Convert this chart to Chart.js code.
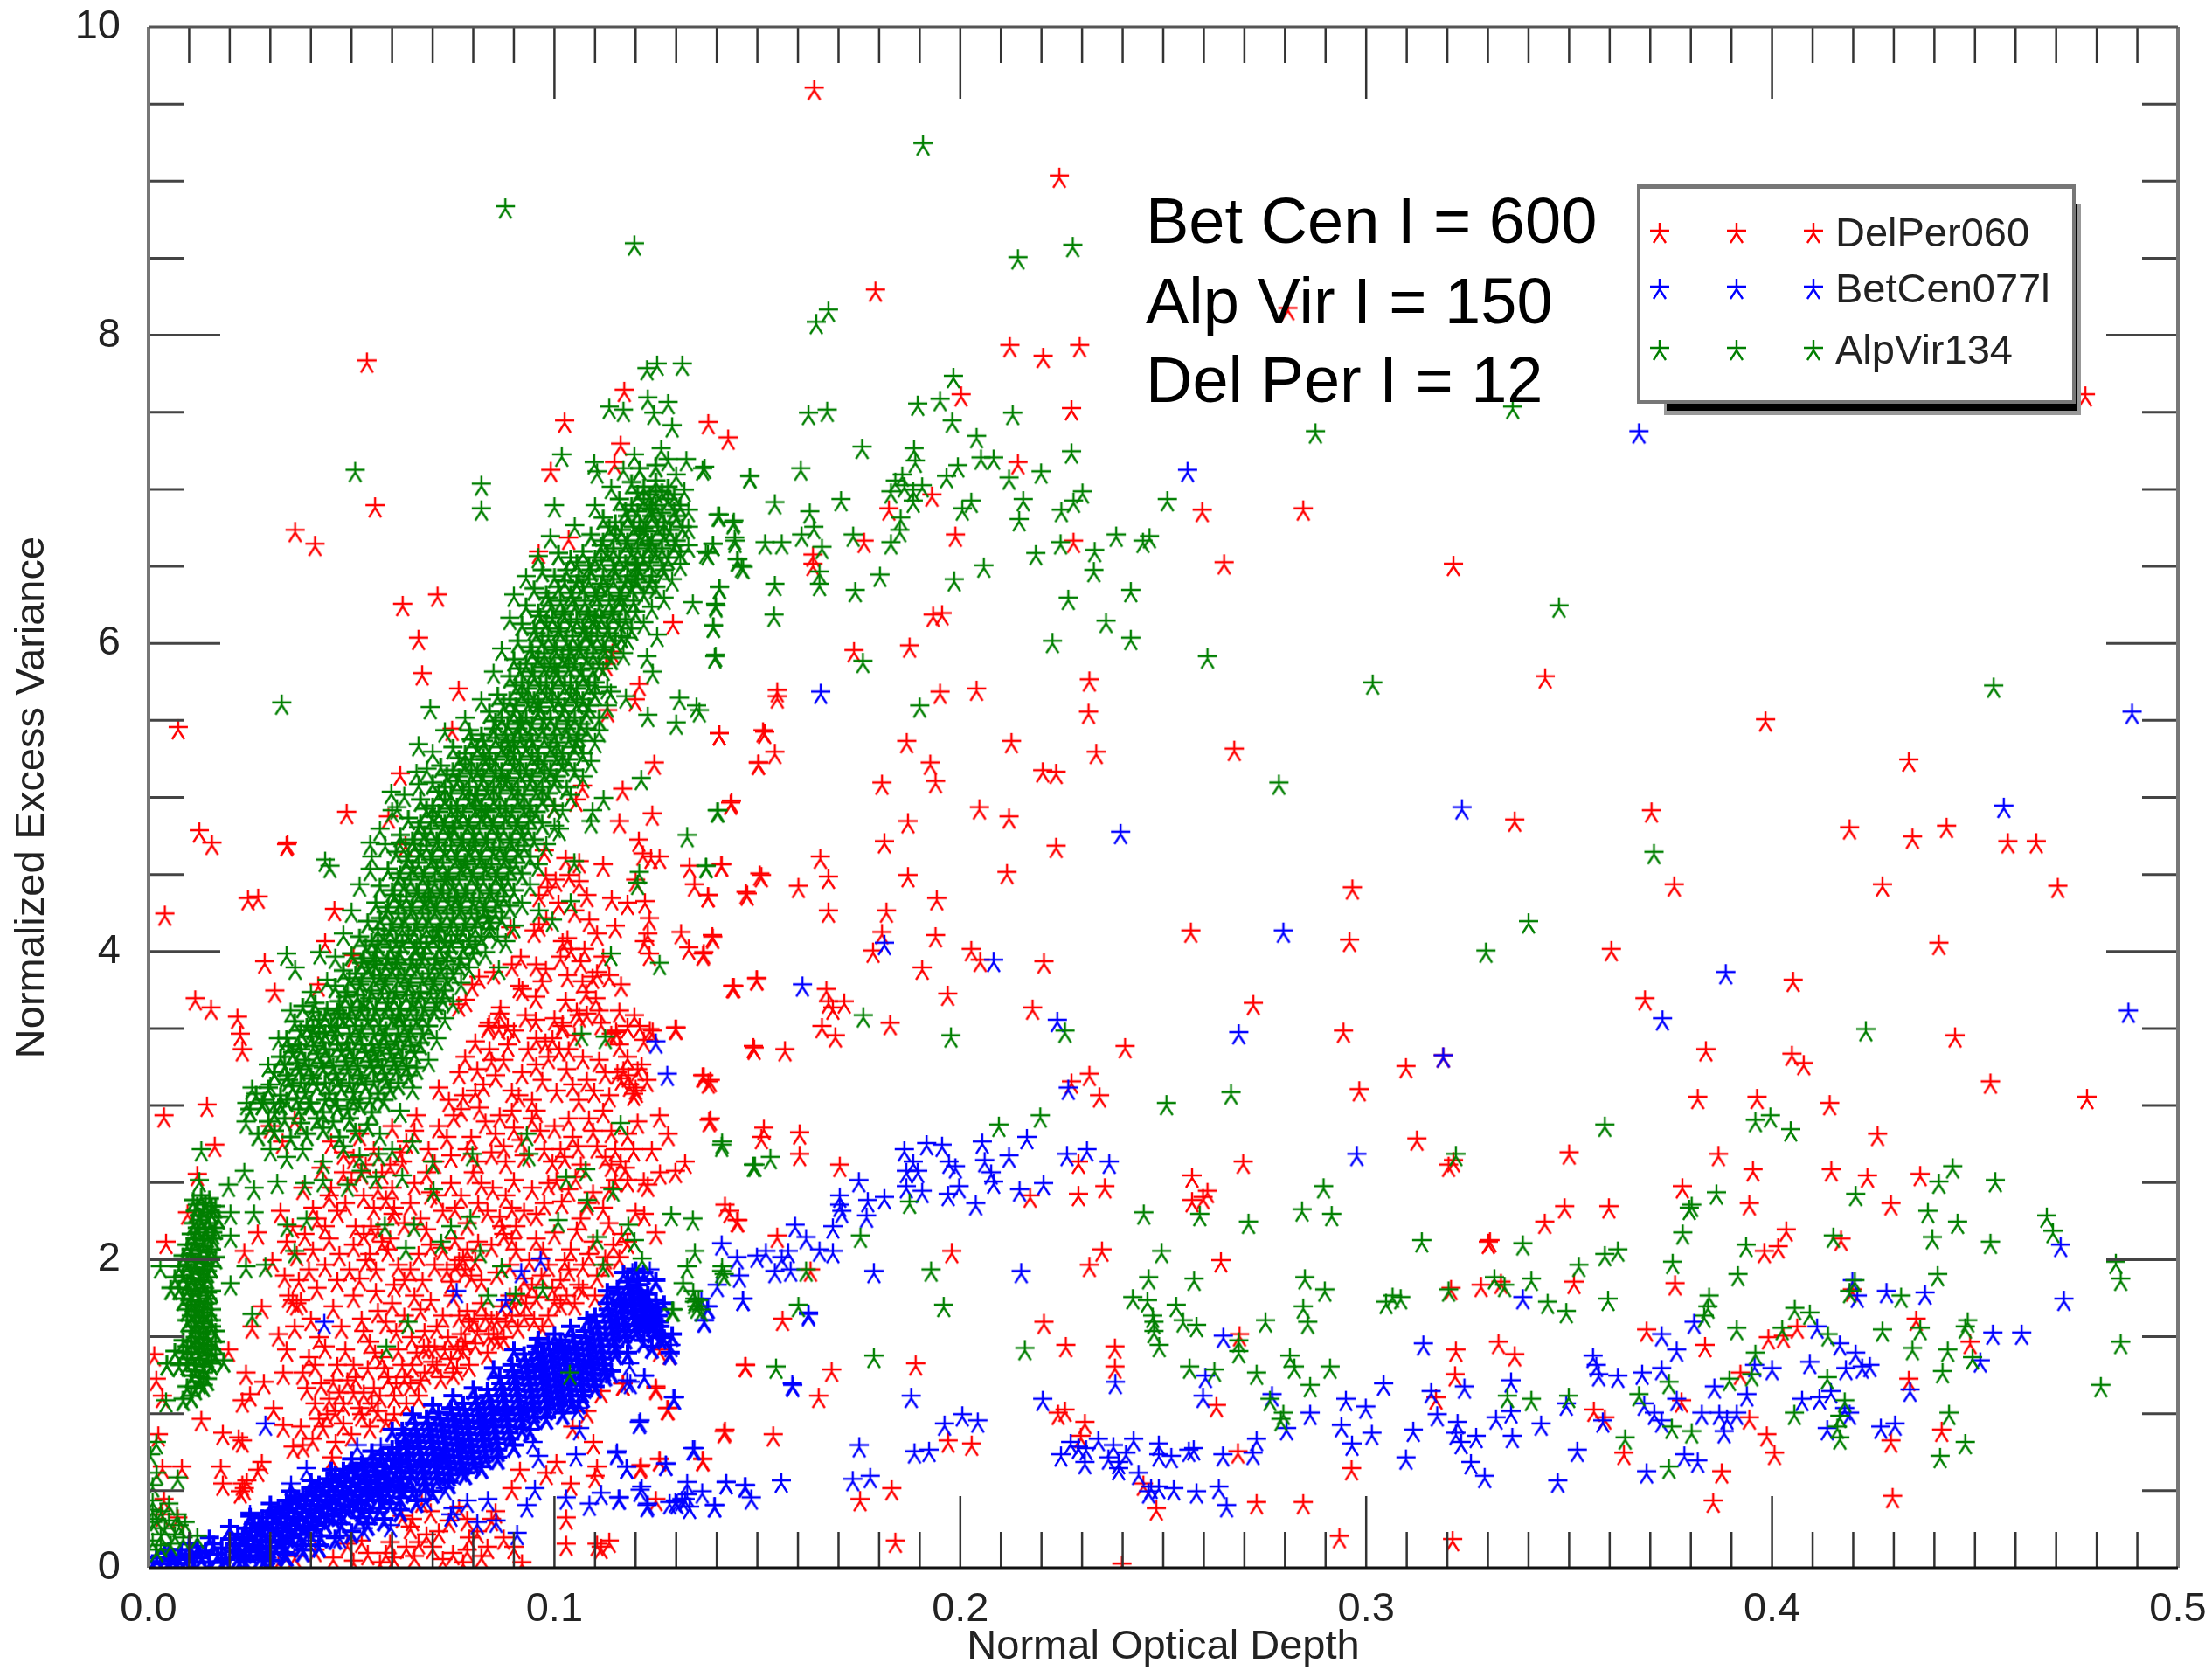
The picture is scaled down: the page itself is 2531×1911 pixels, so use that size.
<!DOCTYPE html>
<html>
<head>
<meta charset="utf-8">
<title>Normalized Excess Variance</title>
<style>
  html, body { margin: 0; padding: 0; background: #fff; }
  canvas { display: block; }
</style>
</head>
<body>
<canvas id="chart" width="2531" height="1911"></canvas>
<script src="https://cdn.jsdelivr.net/npm/chart.js@4/dist/chart.umd.min.js"></script>
<script>
const xTickLabels = ['0.0', '0.1', '0.2', '0.3', '0.4', '0.5'];
const yTickLabels = ['0', '2', '4', '6', '8', '10'];
const seriesNames = ['DelPer060', 'BetCen077l', 'AlpVir134'];
const noteLines = ['Bet Cen I = 600', 'Alp Vir I = 150', 'Del Per I = 12'];

// [optical depth, excess variance]
const delPerSparse = [
[.164,9.59],[.2244,9.02],[.1791,8.28],[.2122,7.92],[.2204,7.85],[.2294,7.92],[.2807,8.16],[.2002,7.6],[.2274,7.51],[.1379,7.42],[.1428,7.32],[.2142,7.16],
[.2596,6.85],[.2845,6.86],[.265,6.51],[.193,6.95],[.1824,6.86],[.1988,6.69],[.2279,6.65],[.1763,6.65],[.1637,6.56],[.1637,6.5],[.1933,6.17],[.1955,6.18],
[.1738,5.94],[.1875,5.97],[.2318,5.75],[.2316,5.54],[.1549,5.68],[.1549,5.64],[.195,5.67],[.204,5.69],[.1406,5.4],[.1518,5.41],[.1543,5.28],[.1503,5.21],
[.1868,5.35],[.2126,5.35],[.1926,5.21],[.1939,5.09],[.1807,5.08],[.2203,5.16],[.2236,5.15],[.2335,5.28],[.2675,5.3],[.1434,4.95],[.2047,4.92],[.212,4.86],
[.1871,4.83],[.1813,4.7],[.2236,4.67],[.1655,4.6],[.1675,4.47],[.1412,4.55],[.151,4.48],[.1601,4.41],[.1472,4.37],[.1871,4.48],[.2115,4.5],[.1379,4.35],
[.2966,4.4],[.1942,4.33],[.1675,4.25],[.1818,4.25],[.2568,4.12],[.2959,4.06],[.139,4.08],[.1368,3.98],[.1807,4.11],[.1785,3.99],[.1939,4.09],[.2027,4.0],
[.2049,3.93],[.2206,3.92],[.1906,3.88],[.1969,3.71],[.1439,3.76],[.1499,3.81],[.167,3.74],[.1675,3.66],[.1686,3.62],[.1714,3.66],[.1659,3.5],[.1692,3.44],
[.1827,3.52],[.2178,3.62],[.2722,3.65],[.2944,3.47],[.2406,3.37],[.1492,3.36],[.1568,3.35],[.1368,3.18],[.1379,3.14],[.2274,3.14],[.2318,3.19],[.2343,3.05],
[.2983,3.09],[.1381,2.89],[.1516,2.84],[.151,2.78],[.1604,2.81],[.1604,2.67],[.1703,2.6],[.2291,2.62],[.2697,2.62],[.2571,2.53],[.2609,2.43],[.2571,2.37],
[.2598,2.39],[.2291,2.41],[.2356,2.46],[.2172,2.4],[.142,2.34],[.145,2.24],[.1549,2.14],[.1979,2.04],[.2349,2.05],[.2318,1.95],[.2642,1.98],[.1631,1.92],
[.2206,1.58],[.1562,1.6],[.226,1.43],[.2381,1.42],[.2381,1.29],[.147,1.3],[.1683,1.27],[.189,1.31],[.1651,1.1],[.2688,1.5],[.2631,1.04],[.2241,.99],
[.2258,1.01],[.2307,.93],[.142,.88],[.1539,.85],[.197,.81],[.2028,.79],[.1366,.69],[.1213,.65],[.1259,.69],[.1831,.5],[.1753,.43],[.125,.43],[.184,.16],
[.2297,.84],[.2684,.74],[.2964,.63],[.2483,.37],[.273,.41],[.2845,.41],[.2934,.19],[.2398,.01],[.2451,.53],[.1259,1.4],[.1283,1.38],[.125,1.16],[.1169,1.18],[.128,1.02],
[.3215,6.5],[.4772,7.6],[.3441,5.77],[.3984,5.49],[.4337,5.23],[.3366,4.84],[.3703,4.9],[.4191,4.79],[.4346,4.73],[.443,4.8],[.4581,4.7],[.4651,4.7],
[.4704,4.41],[.4272,4.42],[.3759,4.42],[.4411,4.04],[.3604,4.0],[.4052,3.8],[.3687,3.68],[.3837,3.35],[.4451,3.44],[.4049,3.32],[.4078,3.26],[.4538,3.14],
[.319,3.31],[.3098,3.24],[.4776,3.04],[.3817,3.04],[.3963,3.04],[.4142,3.0],[.426,2.8],[.3125,2.77],[.3203,2.6],[.3215,2.63],[.35,2.68],[.3868,2.67],[.3953,2.57],
[.4146,2.57],[.4235,2.53],[.4365,2.54],[.3779,2.46],[.4293,2.35],[.3944,2.35],[.3489,2.33],[.3598,2.33],[.344,2.23],[.3301,2.1],[.3305,2.11],[.4035,2.18],
[.417,2.12],[.3981,2.04],[.4015,2.07],[.3761,1.83],[.3512,1.84],[.3209,1.8],[.3283,1.82],[.3332,1.84],[.4198,1.79],[.4355,1.6],[.3691,1.53],[.3835,1.43],
[.3991,1.48],[.4028,1.49],[.4062,1.55],[.4488,1.45],[.3326,1.45],[.3221,1.4],[.3366,1.37],[.3219,1.24],[.4337,1.21],[.3922,1.25],[.3172,1.09],[.3777,1.07],
[.3561,1.01],[.3588,.96],[.3944,.96],[.4418,.88],[.3987,.85],[.4293,.81],[.4006,.73],[.3635,.73],[.3876,.61],[.3855,.42],[.4297,.45],[.3213,.17]
];
const delPerCloud = [
[.0538,7.82],[.1172,7.63],[.1025,7.43],[.0991,7.11],[.1148,7.16],[.1163,7.28],[.0558,6.88],[.0361,6.72],[.041,6.63],[.1035,6.67],[.0961,6.58],[.1292,6.12],
[.0712,6.3],[.0626,6.24],[.0665,6.02],[.0674,5.79],[.0764,5.69],[.0748,5.43],[.062,5.14],[.0488,4.89],[.0591,4.86],[.0342,4.69],[.027,4.34],[.0245,4.33],
[.0458,4.26],[.0633,4.68],[.0286,3.92],[.0435,4.05],[.0505,3.96],[.0311,3.73],[.0418,3.77],[.1209,5.72],[.1199,5.62],[.1131,5.55],[.1127,5.85],[.1143,5.93],
[.1246,5.21],[.1168,5.04],[.1069,5.06],[.0999,4.93],[.1053,4.97],[.116,4.83],[.1241,4.88],[.1436,4.96],[.1406,5.4],[.1514,5.42],[.1502,5.21],[.1475,4.36],
[.1506,4.49],[.1411,4.55],[.1333,4.54],[.1345,4.42],[.1378,4.35],[.1208,4.71],[.1218,4.62],[.1238,4.6],[.1259,4.6],[.1141,4.33],[.1223,4.31],[.1234,4.2],
[.1312,4.11],[.1389,4.09],[.1331,4.01],[.1366,3.97],[.123,4.1],[.1222,4.05],[.1234,3.97],[.144,3.76],[.1498,3.81],[.1164,3.77],[.0975,4.64],[.1028,4.59],
[.1061,4.57],[.0979,4.48],[.1003,4.45],[.1036,4.48],[.1061,4.44],[.0962,4.35],[.0983,4.4],[.0892,4.14],[.095,4.12],[.0962,4.16],[.1032,4.07],[.102,4.05],
[.104,4.0],[.1074,4.0],[.1086,4.19],[.0917,3.95],[.0814,3.82],[.0797,3.77],[.0867,3.62],[.0913,3.76],[.0979,3.87],[.097,3.79],[.1032,3.83],[.1069,3.79],
[.1094,3.82],[.1078,3.72],[.1102,3.68],[.0954,3.69],[.0921,3.74],[.1028,3.67],[.1135,3.83],[.0781,3.67],[.0764,3.64],[.0839,3.52],[.0863,3.49],[.0929,3.57],
[.0954,3.54],[.102,3.52],[.1061,3.57],[.1152,3.47],[.1197,3.57],[.1242,3.47],[.13,3.49],
[.0115,3.68],[.0154,3.62],[.0219,3.56],[.0226,3.45],[.0231,3.35],[.0038,2.92],[.0144,2.99],[.0163,2.73],[.012,2.54],[.0043,2.1],[.0096,2.29],[.0269,2.16],
[.0236,2.04],[.0279,1.68],[.0014,1.37],[.0019,1.21],[.0034,1.1],[.0024,.85],[.0197,1.4],[.024,1.25],[.0284,1.19],[.0332,1.25],[.0255,1.55],[.0231,1.07],
[.025,1.11],[.013,.95],[.0183,.86],[.0231,.81],[.0222,.83],[.0178,.64],[.0183,.53],[.0231,.53],[.0236,.5],[.0242,.55],[.0226,.48],[.0269,.62],[.0279,.67],[.0038,.43],[.0082,.64],[.0034,.64],
[.0072,.31],[.0034,.33],[.0073,5.44],[.0125,4.77],[.0156,4.69],[.004,4.23],[.034,4.68],
[.0308,1.02],[.0332,.91],[.0375,.9],[.038,.78],[.0356,.77],[.0404,.82],[.0452,.7],[.0461,.8],[.042,.95],[.048,.92],[.05,.85],[.0525,.98],[.0545,.9],[.0565,1.0],[.0585,.94],[.0605,.98],
[.041,1.3],[.0425,1.18],[.0445,1.08],[.0465,1.3],[.049,1.2],[.0505,1.12],[.052,1.02],[.054,1.28],[.0555,1.15],[.0575,1.35],[.059,1.22],[.0605,1.1],[.0625,1.3],[.0645,1.18],[.066,1.38],[.068,1.25],[.07,1.32],[.072,1.22],[.0745,1.34],[.076,1.28],[.079,1.3],[.0505,1.3],[.0455,1.2],[.0635,1.05],[.0665,1.1],
[.0375,1.72],[.04,1.6],[.042,1.48],[.0455,1.68],[.0475,1.55],[.0505,1.75],[.0525,1.6],[.0545,1.45],[.056,1.78],[.0585,1.58],[.06,1.7],[.0615,1.4],[.063,1.62],[.0655,1.75],[.067,1.66],[.068,1.52],[.0695,1.72],[.0705,1.42],[.0725,1.62],[.075,1.75],[.077,1.5],[.079,1.58],[.0805,1.44],[.082,1.7],[.0845,1.6],[.086,1.47],[.088,1.58],[.09,1.7],[.0925,1.62],[.0955,1.74],[.0985,1.62],[.1015,1.7],[.0565,1.65],[.0835,1.38],[.0775,1.4],[.0785,1.65],[.0765,1.62],[.0875,1.48],
[.0305,1.98],[.034,2.1],[.037,1.85],[.0395,1.92],[.0415,1.8],[.0445,2.12],[.047,2.02],[.0495,1.92],[.052,1.86],[.053,2.15],[.0545,2.02],[.056,1.92],[.059,2.05],[.0595,2.12],[.0615,1.95],[.063,1.85],[.0665,2.02],[.0685,2.18],[.0705,1.95],[.0725,2.06],[.0745,1.84],[.0765,1.98],[.078,1.92],[.0785,2.05],[.0795,1.88],[.0805,1.98],[.082,1.85],[.0845,2.08],[.0875,2.15],[.089,1.95],[.0905,2.05],[.0925,1.86],[.0955,2.12],[.0985,1.95],[.1,2.16],[.1015,1.85],[.104,2.05],[.107,1.95],[.1095,2.1],[.1125,2.0],[.1165,2.15],[.0775,2.0],[.0755,1.95],[.0355,1.72],[.0365,1.7],[.0345,1.75],
[.038,2.45],[.0425,2.58],[.0465,2.3],[.05,2.5],[.053,2.4],[.0555,2.32],[.0575,2.55],[.06,2.45],[.0605,2.32],[.063,2.22],[.0655,2.48],[.0685,2.55],[.071,2.4],[.0725,2.3],[.0745,2.48],[.077,2.4],[.08,2.55],[.082,2.48],[.0835,2.3],[.0865,2.26],[.088,2.4],[.087,2.2],[.09,2.5],[.0925,2.3],[.0945,2.45],[.0975,2.35],[.1005,2.5],[.1035,2.44],[.1065,2.25],[.1095,2.42],[.112,2.32],[.115,2.5],[.051,2.2],[.0565,2.18],[.0602,2.28],
[.06,2.85],[.0635,2.75],[.066,2.92],[.069,2.7],[.0715,2.85],[.0745,2.66],[.077,2.96],[.0795,2.78],[.0815,2.97],[.083,2.88],[.0845,2.68],[.0865,2.92],[.088,2.62],[.0875,2.72],[.09,2.84],[.0925,2.66],[.0945,2.9],[.0955,2.95],[.0975,2.7],[.1,2.85],[.1015,2.7],[.1025,2.65],[.1045,2.78],[.1065,2.6],[.1085,2.9],[.1105,2.72],[.1125,2.65],[.114,2.82],[.1163,2.62],[.1175,2.58],[.1195,2.7],[.03,2.85],[.033,2.75],[.036,2.9],[.045,2.75],[.048,2.68],[.052,2.8],[.0555,2.7],
[.078,3.3],[.081,3.22],[.0825,3.12],[.0855,3.18],[.0875,3.28],[.0895,3.08],[.092,3.2],[.0945,3.02],[.097,3.15],[.0985,3.3],[.1005,3.08],[.103,3.22],[.106,3.02],[.108,3.15],[.111,3.28],[.1135,3.05],[.1155,3.2],[.1165,3.16],[.117,3.22],[.1185,3.12],[.12,3.1],[.1215,3.25],[.118,3.3],[.1195,3.06],[.0715,3.1],[.074,3.02],[.0765,3.2],
[.0865,3.58],[.0836,3.5],[.09,3.47],[.0955,3.42],[.1,3.55],[.1019,3.5],[.105,3.44],[.108,3.58],[.1115,3.52],[.114,3.45],[.1153,3.46],[.118,3.5],[.122,3.41],
[.125,2.16],[.1221,2.28],[.1134,2.22],[.1432,2.3],[.1452,2.24],[.123,2.47],[.1322,2.62],[.1298,2.56],[.1384,2.9],[.1259,2.92],[.149,3.37],[.1365,3.18],[.1384,3.15],[.1442,3.76],[.1298,3.49],[.1235,3.48],[.1202,3.08],[.1182,3.18],
[.125,1.15],[.1278,1.02],[.1115,1.13],[.1168,1.18],[.1418,.87],[.1471,1.3],[.1005,.67],[.1096,.8],[.1105,.64],[.1211,.64],[.1259,.69],[.1365,.69],[.1045,.9],[.108,1.0],[.104,.53],[.11,.58],[.098,.6],[.0915,.62],[.0895,.5],
[.0625,.32],[.0673,.42],[.074,.29],[.0645,.25],[.0595,.15],[.054,.08],[.049,.14],[.0455,.05],[.041,.1],[.036,.06],[.032,.03],[.07,.12],[.0655,.06],[.075,.08],[.079,.18],[.0785,.3],[.082,.06],[.0855,.35],[.0875,.18],[.092,.02],[.1029,.14],[.1105,.14],[.1115,.12],[.1135,.16],[.1029,.31],[.0605,.05],[.0685,.2],[.0725,.04],[.0775,.02],[.057,.02],[.0505,.03],
[.0395,1.35],[.0435,1.42],[.0485,1.4],[.053,1.52],[.0558,1.38],[.061,1.52],[.0648,1.48],[.0678,1.42],[.071,1.55],[.0738,1.48],[.0762,1.42],[.0802,1.6],[.0838,1.5],[.0858,1.6],[.0895,1.62],[.0918,1.75],[.0945,1.82],[.0968,1.88],[.0995,1.8],[.1035,1.92],[.106,1.82],[.1085,2.02],[.1105,1.88],[.1145,2.08],
[.0335,1.88],[.0365,2.02],[.0405,2.05],[.0435,1.95],[.0465,1.85],[.0505,2.08],[.0535,1.98],[.0575,2.1],[.0605,1.82],[.0645,1.92],[.0675,1.85],[.0695,2.08],[.0735,1.92],[.0755,2.12],[.0812,2.1],[.0858,1.9],[.0895,2.12],[.0938,1.98],[.0972,2.05],[.1025,1.98],[.1055,2.18],
[.0405,2.32],[.0445,2.4],[.0485,2.35],[.0525,2.55],[.0548,2.2],[.0585,2.38],[.0645,2.35],[.067,2.25],[.0695,2.42],[.0755,2.32],[.0785,2.22],[.0812,2.35],[.0848,2.45],[.0895,2.32],[.0905,2.2],[.0955,2.28],[.0985,2.48],[.1018,2.36],[.1052,2.52],[.108,2.35],[.1135,2.45],
[.0625,2.62],[.0655,2.82],[.0705,2.62],[.0735,2.78],[.0752,2.92],[.0785,2.7],[.081,2.62],[.0855,2.8],[.0895,2.95],[.0918,2.76],[.0965,2.82],[.0995,2.62],[.1035,2.9],[.1058,2.72],[.1095,2.82],[.112,2.95],[.115,2.7],[.118,2.8],[.1205,2.88],
[.0805,3.4],[.0845,3.28],[.0885,3.38],[.0912,3.05],[.0955,3.25],[.0978,3.4],[.1012,3.35],[.1045,3.12],[.107,3.3],[.1098,3.08],[.1125,3.2],[.116,3.38],[.1205,3.22],[.1228,3.15],
[.065,.3],[.0695,.35],[.0715,.22],[.0765,.38],[.081,.22],[.0835,.12],[.0845,.3],[.09,.12],[.0635,.12],[.0585,.08],[.0525,.16],[.0665,.15],[.0785,.1],
[.032,1.5],[.034,1.4],[.036,1.55],[.038,1.25],[.039,1.15],[.041,1.05],[.043,.9],[.044,.98],[.046,1.0],[.047,1.12],[.048,1.05],[.051,1.22],[.053,1.12],[.055,1.05],[.057,1.1],[.058,1.28],[.061,1.18],[.063,1.22],[.065,1.3],[.067,1.2],[.069,1.42],[.071,1.3],[.073,1.4],[.075,1.25],[.078,1.45],[.081,1.52],[.083,1.62],[.085,1.5],[.087,1.68],[.089,1.75],[.091,1.55],[.093,1.7],[.095,1.6],[.097,1.55],[.1,1.72],[.103,1.75],[.105,1.7],[.107,1.8],[.11,1.75],[.113,1.95],[.116,2.0],[.118,2.1],[.12,2.3],[.122,2.5],[.124,2.7],[.126,2.55],[.128,2.8],[.118,2.5],[.114,2.6],
[.0325,2.3],[.0355,2.2],[.0385,2.15],[.0415,2.25],[.0435,2.2],[.045,2.45],[.048,2.55],[.0505,2.65],[.0535,2.6],[.0565,2.45],[.0595,2.6],[.062,2.68],
[.0775,3.05],[.0805,3.08],[.084,3.35],[.0885,3.5],[.0935,3.35],[.0995,3.42],[.1035,3.35],[.1055,3.6],[.111,3.6],[.116,3.6],[.121,3.5],[.1105,3.85],[.1065,3.92],[.1015,3.95],[.0955,3.9],[.0895,3.9],[.085,3.85],
[.098,4.2],[.101,4.3],[.105,4.25],[.108,4.35],[.1105,4.1],[.112,3.95],[.115,4.15],[.118,4.3],[.12,4.45],[.112,4.55]
];
const betCenSparse = [
[.3672,7.36],[.4887,5.54],[.3236,4.92],[.4571,4.93],[.3886,3.85],[.373,3.55],[.4878,3.6],[.319,3.31],[.256,7.11],[.1656,5.67],[.2395,4.76],[.2796,4.12],[.1813,4.04],[.2082,3.93],[.1611,3.77],[.2239,3.54],[.2686,3.46],[.2266,3.1],[.2977,2.67],
[.1862,2.7],[.1917,2.74],[.1955,2.73],[.2054,2.75],[.2164,2.78],[.1884,2.62],[.1972,2.62],[.1988,2.59],[.206,2.63],[.212,2.66],[.2263,2.67],[.2312,2.7],[.2367,2.62],[.1867,2.56],[.1895,2.56],[.2076,2.55],[.2082,2.49],[.175,2.5],[.1997,2.46],[.1867,2.46],[.1906,2.43],[.197,2.41],[.2146,2.44],[.2205,2.48],[.2038,2.35],[.1703,2.4],[.1703,2.34],[.1708,2.3],[.1772,2.37],[.1813,2.39],[.1769,2.27],[.1686,2.2],[.1593,2.21],[.162,2.13],[.1653,2.05],[.1686,2.04],[.1521,2.04],[.1499,2.01],[.156,2.0],[.1576,2.04],[.145,2.0],[.1412,2.09],[.1456,1.88],[.1543,1.91],[.1582,1.92],[.1401,1.82],[.1787,1.91],[.215,1.91],[.1464,1.73],[.1626,1.63],[.1362,1.73],[.1368,1.59],[.1379,1.68],[.2648,1.49],[.2382,1.19],[.1587,1.17],[.1879,1.1],[.2203,1.08],[.2604,1.23],[.2598,1.1],[.2768,1.11],[.2862,.99],[.295,1.08],[.2999,1.03],[.3043,1.18],[.2939,.91],[.1961,.92],[.2005,.98],[.2043,.94],
[.1465,1.73],[.1376,1.68],[.1626,1.64],[.137,1.59],[.1287,1.43],[.1185,1.31],[.1222,1.23],[.1179,1.2],[.1296,1.09],[.1586,1.18],[.1209,.93],[.2804,.89],[.3014,.86],[.2965,.79],[.1751,.78],[.1887,.74],[.1923,.75],[.1345,.76],[.1154,.74],[.1178,.64],[.1275,.66],[.1327,.54],[.1423,.54],[.1469,.52],[.1485,.44],[.1559,.55],[.1735,.56],[.1778,.58],[.1215,.51],[.116,.44],[.1228,.39],[.1302,.41],[.1327,.46],[.1333,.38],[.1364,.48],[.1395,.39],[.1284,.41],[.1314,.43],
[.2272,.8],[.2248,.72],[.2291,.77],[.231,.76],[.234,.82],[.2307,.67],[.2377,.78],[.2427,.82],[.2365,.7],[.239,.67],[.2408,.73],[.239,.63],[.2489,.79],[.2489,.72],[.252,.71],[.2563,.75],[.2575,.76],[.2647,.72],[.2721,.73],[.273,.82],[.2439,.6],[.247,.51],[.2464,.48],[.2489,.51],[.2526,.5],[.2582,.48],[.2637,.51],[.2656,.39],
[.4711,2.08],[.4198,1.85],[.421,1.75],[.4282,1.78],[.4377,1.77],[.4719,1.73],[.3386,1.74],[.3808,1.58],[.3728,1.5],[.4111,1.55],[.4544,1.51],[.4615,1.51],[.3141,1.44],[.3765,1.4],[.4167,1.44],[.4206,1.38],[.3559,1.36],[.3567,1.3],[.3573,1.24],[.362,1.23],[.368,1.25],[.3728,1.28],[.3957,1.3],[.4,1.28],[.4093,1.32],[.4182,1.28],[.4222,1.29],[.4241,1.3],[.4513,1.33],[.3357,1.2],[.3242,1.16],[.316,1.13],[.3858,1.16],[.3938,1.11],[.434,1.14],[.4145,1.13],[.4074,1.08],[.4117,1.09],[.3765,1.08],[.3493,1.05],[.3685,1.05],[.371,.99],[.3728,.94],[.3827,.99],[.387,.99],[.3889,.96],[.3913,.99],[.3882,.87],[.4191,.99],[.4179,1.02],[.4136,.89],[.4268,.9],[.4303,.92],[.3175,.98],[.3357,1.0],[.332,.96],[.3431,.92],[.3583,.94],[.3116,.88],[.3225,.93],[.3221,.86],[.3234,.8],[.3271,.84],[.336,.84],[.352,.75],[.3098,.7],[.3258,.67],[.3292,.58],[.3472,.55],[.3691,.61],[.3784,.72],[.3817,.68],
[.0433,1.58],[.0288,.92],[.0759,1.78],[.088,1.72],[.0918,1.91],[.0966,1.99],[.125,3.4],[.1278,3.19],[.1192,1.91],[.1235,1.92],[.1293,1.09],[.1211,.94],[.1221,1.23],[.1187,1.19],[.1057,1.02],[.1062,.89],[.1053,.72],[.0961,.71],[.0947,.8],[.1153,.73],[.1178,.64],[.1274,.66],[.1341,.76],[.1423,.54],[.1471,.52],[.0952,.5],[.0932,.39],[.1029,.44],[.1086,.4],[.1115,.47],[.1158,.44],[.1211,.49],[.123,.4],[.1298,.42],[.1322,.43],[.1394,.39],[.0514,.78],[.0572,.78],[.0389,.63],[.025,.34],[.0351,.53],[.0836,.43],[.0856,.29],[.0908,.21],[.075,.37],[.0683,.43],[.0731,.5],[.0596,.26],[.0529,.24],[.0471,.19],[.0394,.16],[.0745,.33],[.0785,.42],[.081,.28]
];
const betCenBand = [
[.001,.02],[.002,.05],[.003,.01],[.004,.08],[.005,.03],[.006,.06],[.007,.01],[.008,.1],[.009,.04],[.01,.07],[.011,.02],[.012,.12],[.013,.05],[.014,.09],[.015,.02],[.016,.14],[.017,.07],[.018,.11],[.019,.04],[.02,.17],
[.021,.09],[.022,.2],[.0225,.13],[.023,.05],[.024,.24],[.0245,.16],[.025,.09],[.026,.27],[.0265,.19],[.027,.11],[.0275,.06],[.028,.31],[.0285,.23],[.029,.15],[.0295,.08],[.03,.35],[.0305,.27],[.031,.19],[.0315,.11],[.032,.38],
[.0325,.31],[.033,.22],[.0335,.14],[.034,.42],[.0345,.34],[.035,.26],[.0355,.18],[.036,.44],[.0365,.37],[.037,.29],[.0375,.2],[.038,.46],[.0385,.39],[.039,.31],[.0395,.23],[.04,.5],[.0405,.42],[.041,.34],[.0415,.26],[.042,.53],
[.0425,.45],[.043,.37],[.0435,.28],[.044,.56],[.0445,.48],[.045,.4],[.0455,.32],[.046,.59],[.0465,.51],[.047,.43],[.0475,.34],[.048,.62],[.0485,.54],[.049,.46],[.0495,.38],[.05,.64],[.0505,.56],[.051,.48],[.0515,.4],[.052,.31],
[.0525,.66],[.053,.58],[.0535,.5],[.054,.42],[.0545,.34],[.055,.69],[.0555,.61],[.056,.53],[.0565,.45],[.057,.37],[.0575,.72],[.058,.64],[.0585,.56],[.059,.48],[.0595,.4],[.06,.76],[.0605,.68],[.061,.6],[.0615,.52],[.062,.44],
[.0625,.88],[.063,.8],[.0635,.72],[.064,.64],[.0645,.56],[.065,.48],[.0655,.92],[.066,.84],[.0665,.76],[.067,.68],[.0675,.6],[.068,.52],[.0685,.96],[.069,.88],[.0695,.8],[.07,.72],[.0705,.64],[.071,.56],[.0715,.99],[.072,.91],
[.0725,.83],[.073,.75],[.0735,.67],[.074,.59],[.0745,1.02],[.075,.94],[.0755,.86],[.076,.78],[.0765,.7],[.077,.62],[.0775,1.05],[.078,.97],[.0785,.89],[.079,.81],[.0795,.73],[.08,.66],[.0805,1.09],[.081,1.01],[.0815,.93],[.082,.85],
[.0825,.77],[.083,.7],[.0835,1.14],[.084,1.06],[.0845,.98],[.085,.9],[.0855,.82],[.086,.75],[.0865,1.22],[.087,1.14],[.0875,1.06],[.088,.98],[.0885,.9],[.089,.82],[.0895,1.3],[.09,1.22],[.0905,1.14],[.091,1.06],[.0915,.98],[.092,.89],
[.0925,1.37],[.093,1.29],[.0935,1.21],[.094,1.13],[.0945,1.05],[.095,.96],[.0955,1.42],[.096,1.34],[.0965,1.26],[.097,1.18],[.0975,1.1],[.098,1.02],[.0985,1.44],[.099,1.36],[.0995,1.28],[.1,1.2],[.1005,1.12],[.101,1.04],[.1015,1.46],[.102,1.38],
[.1025,1.3],[.103,1.22],[.1035,1.14],[.104,1.06],[.1045,1.49],[.105,1.41],[.1055,1.33],[.106,1.25],[.1065,1.17],[.107,1.1],[.1075,1.52],[.108,1.44],[.1085,1.36],[.109,1.28],[.1095,1.2],[.11,1.62],[.1105,1.54],[.111,1.46],[.1115,1.38],[.112,1.3],
[.1125,1.24],[.113,1.7],[.1135,1.62],[.114,1.54],[.1145,1.46],[.115,1.38],[.1155,1.8],[.116,1.72],[.1165,1.64],[.117,1.56],[.1175,1.48],[.118,1.84],[.1185,1.76],[.119,1.68],[.1195,1.6],[.12,1.52],[.1205,1.85],[.121,1.78],[.1215,1.7],[.122,1.62],
[.1225,1.54],[.123,1.76],[.1235,1.68],[.124,1.6],[.1245,1.52],[.125,1.72],[.1255,1.62],[.126,1.55],[.127,1.48],[.1285,1.38],
[.0075,.05],[.0125,.08],[.018,.02],[.024,.03],[.0285,.04],[.0335,.08],[.0375,.13],[.0425,.19],[.0475,.27],[.0525,.36],[.0575,.42],[.0625,.5],[.0675,.66],[.0725,.7],[.0775,.78],[.0825,.92],[.0875,1.0],[.0925,1.02],[.0975,1.28],[.1025,1.4],[.1075,1.3],[.1125,1.5],[.1175,1.7],[.1225,1.72],
[.0212,.14],[.0218,.05],[.0232,.18],[.0238,.09],[.0252,.22],[.0258,.13],[.0272,.25],[.0278,.16],[.0292,.28],[.0298,.12],[.0312,.33],[.0318,.24],[.0322,.16],[.0332,.36],[.0338,.27],[.0342,.19],[.0352,.4],[.0358,.31],[.0362,.23],[.0372,.42],[.0378,.34],[.0382,.25],[.0392,.45],[.0398,.36],[.0402,.28],[.0412,.48],[.0418,.39],[.0422,.31],[.0432,.51],[.0438,.42],[.0442,.33],[.0452,.54],[.0458,.45],[.0462,.36],[.0472,.57],[.0478,.48],[.0482,.39],[.0492,.6],[.0498,.51],[.0502,.42],[.0512,.62],[.0518,.53],[.0522,.45],[.0532,.64],[.0538,.55],[.0542,.47],[.0552,.66],[.0558,.58],[.0562,.49],[.0572,.69],[.0578,.6],[.0582,.51],[.0592,.72],[.0598,.63],[.0602,.54],[.0612,.76],[.0618,.66],[.0622,.57],
[.0632,.85],[.0638,.77],[.0642,.68],[.0648,.6],[.0658,.88],[.0662,.8],[.0668,.72],[.0672,.64],[.0678,.56],[.0688,.92],[.0692,.84],[.0698,.76],[.0702,.68],[.0708,.6],[.0718,.95],[.0722,.87],[.0728,.79],[.0732,.71],[.0738,.63],[.0748,.98],[.0752,.9],[.0758,.82],[.0762,.74],[.0768,.66],[.0778,1.01],[.0782,.93],[.0788,.85],[.0792,.77],[.0798,.69],[.0808,1.05],[.0812,.97],[.0818,.89],[.0822,.81],[.0828,.74],[.0838,1.1],[.0842,1.02],[.0848,.94],[.0852,.86],[.0858,.79],[.0868,1.18],[.0872,1.1],[.0878,1.02],[.0882,.94],[.0888,.86],[.0898,1.26],[.0902,1.18],[.0908,1.1],[.0912,1.02],[.0918,.94],
[.0928,1.33],[.0932,1.25],[.0938,1.17],[.0942,1.09],[.0948,1.0],[.0958,1.38],[.0962,1.3],[.0968,1.22],[.0972,1.14],[.0978,1.06],[.0988,1.4],[.0992,1.32],[.0998,1.24],[.1002,1.16],[.1008,1.08],[.1018,1.42],[.1022,1.34],[.1028,1.26],[.1032,1.18],[.1038,1.1],[.1048,1.45],[.1052,1.37],[.1058,1.29],[.1062,1.21],[.1068,1.13],[.1078,1.48],[.1082,1.4],[.1088,1.32],[.1092,1.24],[.1102,1.58],[.1108,1.5],[.1112,1.42],[.1118,1.34],[.1122,1.27],[.1132,1.66],[.1138,1.58],[.1142,1.5],[.1148,1.42],[.1158,1.76],[.1162,1.68],[.1168,1.6],[.1172,1.52],[.1182,1.8],[.1188,1.72],[.1192,1.64],[.1198,1.56],[.1208,1.82],[.1212,1.74],[.1218,1.66],[.1222,1.58],[.1232,1.72],[.1238,1.64],[.1242,1.56],[.1252,1.67],[.1258,1.58],
[.03,.03],[.034,.07],[.038,.1],[.042,.13],[.046,.18],[.05,.22],[.054,.27],[.058,.3],[.062,.36],[.066,.42],[.07,.48],[.074,.54],[.078,.6],[.082,.64],[.086,.7],[.09,.78],[.094,.88],[.098,.96],[.102,.99],[.106,1.06],[.11,1.16],[.114,1.26],[.118,1.38],[.122,1.46],[.126,1.48],[.129,1.5],[.124,1.42],[.12,1.92],[.117,1.9],[.122,1.9],[.125,1.85],[.127,1.7],[.113,1.78],[.108,1.6],[.104,1.55],[.1,1.5],[.096,1.47],[.09,1.4],[.085,1.28],[.08,1.15],[.075,1.1],[.07,1.04],[.065,.98],[.06,.88],[.055,.74],[.05,.69],[.045,.62],[.04,.55],[.035,.48],[.03,.4],[.025,.32],[.02,.25],[.015,.18],[.01,.14],[.005,.1]
];
const alpVirSparse = [
[.1908,9.23],[.2142,8.49],[.2277,8.57],[.1645,8.07],[.1675,8.15],[.1983,7.72],[.1895,7.54],[.195,7.57],[.198,7.43],[.1626,7.48],[.1672,7.5],[.2129,7.48],[.2875,7.36],[.204,7.33],[.1758,7.26],[.1886,7.25],[.1889,7.17],[.2051,7.19],[.2082,7.19],[.2274,7.23],[.1994,7.14],[.1966,7.07],[.212,7.06],[.2199,7.1],[.1857,7.08],[.184,7.04],[.1862,7.01],[.1829,6.97],[.1884,6.98],[.1884,6.91],[.1906,7.01],[.1706,6.92],[.1543,6.9],[.137,7.13],[.1481,7.07],[.1607,7.12],[.1406,6.82],[.1442,6.78],[.1629,6.84],[.1639,6.74],[.1609,6.69],[.1519,6.64],[.156,6.64],[.1659,6.61],[.1445,6.65],[.139,6.63],[.1373,6.58],[.145,6.53],[.1461,6.49],[.1736,6.69],[.1853,6.8],[.1851,6.72],[.1829,6.64],[.2027,6.91],[.2005,6.86],[.2155,6.92],[.2145,6.79],[.2301,6.97],[.2279,6.91],[.2249,6.85],[.251,6.92],[.2466,6.68],[.245,6.65],[.2384,6.69],[.2247,6.64],[.2331,6.59],[.2186,6.57],[.2329,6.46],[.2058,6.49],[.1985,6.4],[.1802,6.43],[.1653,6.45],[.1653,6.37],[.1741,6.33],[.1543,6.37],[.1406,6.35],[.1398,6.23],[.1541,6.17],[.1392,6.1],[.1395,5.9],[.242,6.33],[.2266,6.28],[.242,6.02],[.2359,6.13],[.2227,6.0],[.2609,5.9],[.3016,5.73],[.176,5.87],[.19,5.58],[.1357,5.55],
[.2785,5.08],[.1401,4.9],[.1373,4.54],[.1761,3.57],[.1977,3.44],[.2258,3.47],[.2508,3.0],[.2667,3.07],[.2197,2.92],[.2095,2.86],[.1412,2.73],[.1494,2.6],[.1532,2.65],[.2895,2.46],[.2842,2.31],[.2915,2.28],[.2452,2.29],[.259,2.28],[.271,2.23],[.1875,2.36],[.1754,2.14],[.2496,2.04],[.2464,1.87],[.2576,1.86],[.2849,1.87],[.2898,1.79],[.1928,1.92],[.162,1.92],[.1412,1.91],[.1418,1.89],[.1959,1.69],[.1601,1.69],[.2425,1.74],[.2461,1.72],[.2532,1.69],[.2474,1.62],[.2477,1.58],[.2477,1.52],[.2549,1.59],[.2582,1.56],[.2752,1.59],[.2845,1.68],[.2856,1.58],[.3049,1.71],[.3065,1.75],[.2159,1.41],[.249,1.43],[.2686,1.46],[.2686,1.39],[.1787,1.36],[.1546,1.29],[.2565,1.29],[.2626,1.27],[.273,1.25],[.2812,1.36],[.2823,1.29],[.2911,1.29],[.2862,1.17],[.2763,1.08],[.279,.95],[.2796,.99],[.129,1.66],[.1345,1.71],
[.3361,7.52],[.3475,6.23],[.4546,5.71],[.3709,4.63],[.34,4.18],[.3295,3.99],[.4231,3.48],[.3588,2.86],[.3959,2.89],[.3996,2.92],[.4046,2.83],[.3221,2.67],[.4445,2.59],[.455,2.5],[.4411,2.49],[.3863,2.42],[.4206,2.41],[.3802,2.34],[.3796,2.32],[.4384,2.3],[.4457,2.23],[.4677,2.27],[.4692,2.17],[.4395,2.13],[.4538,2.1],[.4151,2.14],[.378,2.16],[.3936,2.08],[.3137,2.11],[.3386,2.09],[.362,2.05],[.3588,2.02],[.3524,1.95],[.3755,1.97],[.4847,1.97],[.4859,1.86],[.3916,1.89],[.4408,1.89],[.3316,1.87],[.3341,1.82],[.3407,1.86],[.3203,1.79],[.3085,1.74],[.3447,1.71],[.3493,1.65],[.3596,1.73],[.3845,1.75],[.3842,1.68],[.3833,1.62],[.4204,1.85],[.4191,1.78],[.4318,1.75],[.4056,1.67],[.4093,1.64],[.3913,1.54],[.4025,1.54],[.4138,1.5],[.4272,1.53],[.4365,1.54],[.4482,1.59],[.4476,1.55],[.3959,1.38],[.4346,1.41],[.4433,1.4],[.4494,1.35],[.442,1.26],[.4859,1.45],[.481,1.17],[.4136,1.22],[.3895,1.21],[.395,1.24],[.3746,1.19],[.3672,1.11],[.3348,1.1],[.3407,1.08],[.3499,1.1],[.4055,.99],[.4179,1.07],[.4167,.97],[.4161,.9],[.4436,.99],[.3753,.9],[.3802,.87],[.3638,.83],[.4167,.83],[.4476,.8],[.4414,.71],[.3746,.64],
[.0879,8.82],[.1197,8.58],[.1228,7.77],[.1253,7.8],[.1315,7.8],[.1135,7.52],[.117,7.5],[.123,7.58],[.128,7.55],[.1245,7.48],[.129,7.4],[.1018,7.21],[.0509,7.11],[.082,7.02],[.082,6.86],[.1,6.88],[.1098,7.16],[.1105,7.1],[.1197,7.21],[.1263,7.25],[.1325,7.18],[.1365,7.12],[.1482,7.07],
[.1403,6.82],[.144,6.77],[.1444,6.67],[.1391,6.63],[.1378,6.57],[.1452,6.53],[.1465,6.48],[.1407,6.35],[.1341,6.25],[.1397,6.24],[.1391,6.1],[.1253,6.04],[.1228,5.9],[.1397,5.91],[.1242,5.8],[.1139,5.67],[.1176,5.64],[.1308,5.63],[.135,5.58],[.123,5.52],[.13,5.47],[.0328,5.6],[.0694,5.57],[.0665,5.33],[.0686,5.17],[.0665,5.07],[.0598,5.02],[.0612,4.92],[.1121,4.98],[.1214,5.11],[.1094,4.9],[.109,4.83],[.1403,4.9],[.1327,4.74],[.1049,4.57],[.1374,4.54],[.1209,4.5],[.1205,4.43],[.0962,4.25],[.104,4.31],[.0995,4.19],[.1012,4.78],[.1139,3.97],[.1259,3.91],[.0435,4.58],[.0447,4.54],[.0546,4.69],[.0583,4.68],[.062,4.69],[.0546,4.52],[.034,3.97],[.0361,3.88],[.0422,3.98],[.0863,3.88],[.088,4.05],
[.0255,3.1],[.0242,3.0],[.0308,3.0],[.013,2.7],[.0125,2.5],[.0236,2.56],[.026,2.45],[.0197,2.47],[.0317,2.49],[.0385,2.48],[.049,2.47],[.0524,2.56],[.0567,2.67],[.0625,2.53],[.0702,2.44],[.0798,2.67],[.0932,2.8],[.0937,2.67],[.1067,3.45],[.1125,3.43],[.1163,2.87],[.1029,2.52],[.1077,2.57],[.1081,2.37],[.1144,2.44],[.1288,2.28],[.1341,2.25],[.1009,2.24],[.1105,2.13],[.1182,2.21],[.1197,2.11],[.112,1.95],[.1216,1.99],[.0817,2.04],[.087,1.94],[.0793,2.26],[.0745,2.2],[.0721,2.1],[.0634,2.06],[.0654,2.21],[.0582,2.21],[.036,2.04],[.0288,1.95],[.024,1.94],[.0029,1.94],[.0202,1.83],[.0341,2.21],[.0389,2.25],[.026,2.29],[.0202,2.29],[.0202,2.14],[.0255,1.63],[.0639,1.58],[.0586,1.42],[.0971,1.8],[.0904,1.76],[.0836,1.75],[.0043,1.07],[.0019,.8],[.0072,.57],[.012,.19],[.1038,1.25],[.1413,2.75],[.149,2.6],
[.1346,1.73],[.1327,1.94],[.1346,2.04],[.1413,1.94],[.1317,1.83],[.1351,1.68],[.1293,1.66],[.1355,1.72],[.1342,1.78],[.1362,1.66],
[.024,2.88],[.03,3.12],[.0295,3.25],[.032,3.42],[.035,3.6],[.04,3.72],[.044,3.8],[.046,3.95],[.048,4.1],[.05,4.25],[.052,4.42],[.055,4.6],[.057,4.78],[.06,4.9],[.063,5.0],[.066,5.15],[.07,5.28],[.073,5.42],[.078,5.5],[.082,5.62],[.085,5.8],[.087,5.95],[.089,6.15],[.09,6.3],[.093,6.42],[.096,6.55],[.099,6.68],[.105,6.75],[.11,6.88],[.114,7.0],[.117,7.12],
[.062,2.95],[.065,3.1],[.069,3.28],[.071,3.42],[.073,3.55],[.075,3.66],[.077,3.78],[.079,3.88],[.083,3.98],[.086,4.08],[.09,4.15],[.092,4.3],[.094,4.42],[.096,4.55],[.098,4.68],[.1,4.8],[.102,4.9],[.104,5.0],[.107,5.12],[.109,5.22],[.11,5.35],[.111,5.42],[.113,5.58],[.113,5.7],[.112,5.82],[.117,5.92],[.118,6.02],[.122,6.12],[.124,6.22],[.127,6.28],[.129,6.4],[.131,6.5],[.133,6.62],[.133,6.74],[.133,6.85],[.132,6.98],[.13,7.08],[.128,7.18],
[.03,2.7],[.034,2.65],[.038,2.7],[.043,2.62],[.048,2.72],[.052,2.66],[.057,2.8],[.06,2.7],[.065,2.75],[.07,2.62],[.056,2.52],[.043,2.5]
];
const alpVirColumn = [
[.011,2.37],[.013,2.4],[.015,2.38],[.0165,2.33],[.0115,2.3],[.0135,2.31],[.0155,2.29],[.0172,2.26],[.011,2.22],[.013,2.24],[.015,2.22],[.0165,2.19],[.0105,2.15],[.0125,2.16],[.0145,2.14],[.016,2.12],[.0095,2.08],[.0115,2.09],[.0135,2.07],[.0155,2.05],[.0085,2.01],[.0105,2.02],[.0125,2.0],[.0145,1.99],[.0165,2.0],
[.0075,1.94],[.0095,1.95],[.0115,1.93],[.0135,1.92],[.0155,1.94],[.0065,1.87],[.0085,1.88],[.0105,1.86],[.0125,1.85],[.0145,1.87],[.0055,1.8],[.0075,1.8],[.0095,1.79],[.0115,1.78],[.0135,1.8],[.0155,1.78],[.0085,1.73],[.0105,1.72],[.0125,1.71],[.0145,1.73],[.0095,1.66],[.0115,1.65],[.0135,1.64],[.0155,1.66],
[.0095,1.59],[.0115,1.58],[.0135,1.57],[.0155,1.59],[.0105,1.52],[.0125,1.51],[.0145,1.5],[.0165,1.52],[.0085,1.46],[.0105,1.45],[.0125,1.44],[.0145,1.43],[.0165,1.45],[.0065,1.39],[.0085,1.38],[.0105,1.37],[.0125,1.38],[.0145,1.36],[.0165,1.37],[.0185,1.33],[.0045,1.31],[.0075,1.3],[.0095,1.31],[.0115,1.3],[.0135,1.29],[.0155,1.31],[.0105,1.23],[.0125,1.22],[.0145,1.21],[.0095,1.16],[.0115,1.15],[.0135,1.17],[.0085,1.08],[.0105,1.1],
[.012,2.34],[.014,2.35],[.0155,2.33],[.0125,2.27],[.0145,2.26],[.012,2.19],[.014,2.18],[.0158,2.16],[.0115,2.12],[.0135,2.11],[.0105,2.05],[.0125,2.04],[.0145,2.03],[.0095,1.98],[.0115,1.97],[.0135,1.96],[.0105,1.91],[.0125,1.89],[.0145,1.91],[.0095,1.84],[.0115,1.82],[.0135,1.84],[.0105,1.76],[.0125,1.75],[.0145,1.77],[.0105,1.69],[.0125,1.68],[.0145,1.7],[.0105,1.62],[.0125,1.61],[.0145,1.62],[.0115,1.55],[.0135,1.54],[.0155,1.55],[.0115,1.48],[.0135,1.47],[.0095,1.42],[.0115,1.41],[.0135,1.42],[.0155,1.4],[.0105,1.34],[.0125,1.34],[.0145,1.33],[.0115,1.26],[.0135,1.25],[.0125,1.19]
];
const alpVirCorner = [
[.001,.42],[.003,.35],[.005,.4],[.007,.33],[.009,.28],[.001,.28],[.004,.24],[.0065,.2],[.001,.16],[.003,.13],[.0055,.14],[.0085,.18],[.001,.52],[.002,.6],[.0005,.72],[.002,.3],[.005,.29],[.003,.2],[.0075,.26],[.001,.36],[.002,.1]
];
const alpVirRidge = [
[.027,2.8],[.031,2.82],[.035,2.78],[.039,2.8],[.043,2.84],[.047,2.78],[.051,2.82],[.054,2.86],
[.025,2.96],[.028,3.0],[.031,2.94],[.034,3.02],[.037,2.96],[.04,3.0],[.043,2.94],[.046,3.02],[.049,2.96],[.052,3.0],[.055,2.94],[.058,3.02],[.0265,3.06],[.0295,3.1],[.0325,3.05],[.0355,3.11],[.0385,3.07],[.0415,3.12],[.0445,3.06],[.0475,3.11],[.0505,3.07],[.0535,3.12],[.0565,3.06],[.0595,3.1],
[.031,3.2],[.034,3.18],[.037,3.22],[.04,3.18],[.043,3.23],[.046,3.19],[.049,3.22],[.052,3.18],[.055,3.23],[.058,3.19],[.061,3.22],[.064,3.18],[.066,3.23],[.0325,3.3],[.0355,3.33],[.0385,3.28],[.0415,3.32],[.0445,3.3],[.0475,3.34],[.0505,3.29],[.0535,3.33],[.0565,3.28],[.0595,3.32],[.0625,3.29],[.0655,3.33],
[.034,3.42],[.037,3.38],[.04,3.43],[.043,3.39],[.046,3.44],[.049,3.39],[.052,3.43],[.055,3.38],[.058,3.44],[.061,3.4],[.064,3.43],[.067,3.39],[.036,3.53],[.039,3.5],[.042,3.54],[.045,3.5],[.048,3.55],[.051,3.5],[.054,3.54],[.057,3.5],[.06,3.55],[.063,3.5],[.066,3.54],[.069,3.5],
[.038,3.63],[.041,3.65],[.044,3.61],[.047,3.66],[.05,3.62],[.053,3.66],[.056,3.61],[.059,3.65],[.062,3.61],[.065,3.66],[.068,3.62],[.071,3.65],[.046,3.76],[.049,3.72],[.052,3.77],[.055,3.73],[.058,3.77],[.061,3.72],[.064,3.76],[.067,3.72],[.07,3.77],[.073,3.73],
[.048,3.86],[.051,3.84],[.054,3.88],[.057,3.83],[.06,3.87],[.063,3.83],[.066,3.88],[.069,3.84],[.072,3.87],[.075,3.84],[.05,3.97],[.053,3.94],[.056,3.98],[.059,3.94],[.062,3.98],[.065,3.93],[.068,3.97],[.071,3.94],[.074,3.98],[.077,3.94],[.08,3.97],
[.052,4.08],[.055,4.05],[.058,4.09],[.061,4.05],[.064,4.09],[.067,4.04],[.07,4.08],[.073,4.05],[.076,4.09],[.079,4.05],[.082,4.08],[.084,4.13],[.054,4.18],[.057,4.2],[.06,4.16],[.063,4.2],[.066,4.16],[.069,4.2],[.072,4.16],[.075,4.2],[.078,4.16],[.081,4.2],[.084,4.17],[.087,4.2],
[.056,4.3],[.059,4.27],[.062,4.31],[.065,4.27],[.068,4.31],[.071,4.27],[.074,4.31],[.077,4.27],[.08,4.31],[.083,4.27],[.086,4.31],[.089,4.28],[.057,4.41],[.06,4.38],[.063,4.42],[.066,4.38],[.069,4.42],[.072,4.38],[.075,4.42],[.078,4.38],[.081,4.42],[.084,4.38],[.087,4.42],[.09,4.38],
[.059,4.52],[.062,4.49],[.065,4.53],[.068,4.49],[.071,4.53],[.074,4.49],[.077,4.53],[.08,4.49],[.083,4.53],[.086,4.49],[.089,4.53],[.092,4.49],[.061,4.63],[.064,4.6],[.067,4.64],[.07,4.6],[.073,4.64],[.076,4.6],[.079,4.64],[.082,4.6],[.085,4.64],[.088,4.6],[.091,4.64],[.094,4.6],
[.062,4.74],[.065,4.71],[.068,4.75],[.071,4.71],[.074,4.75],[.077,4.71],[.08,4.75],[.083,4.71],[.086,4.75],[.089,4.71],[.092,4.75],[.095,4.71],[.064,4.85],[.067,4.82],[.07,4.86],[.073,4.82],[.076,4.86],[.079,4.82],[.082,4.86],[.085,4.82],[.088,4.86],[.091,4.82],[.094,4.86],[.097,4.82],
[.067,4.97],[.07,4.93],[.073,4.97],[.076,4.93],[.079,4.97],[.082,4.93],[.085,4.97],[.088,4.93],[.091,4.97],[.094,4.93],[.097,4.97],[.1,4.93],[.07,5.08],[.073,5.05],[.076,5.09],[.079,5.05],[.082,5.09],[.085,5.05],[.088,5.09],[.091,5.05],[.094,5.09],[.097,5.05],[.1,5.09],[.103,5.05],
[.072,5.19],[.075,5.16],[.078,5.2],[.081,5.16],[.084,5.2],[.087,5.16],[.09,5.2],[.093,5.16],[.096,5.2],[.099,5.16],[.102,5.2],[.105,5.16],[.075,5.31],[.078,5.27],[.081,5.31],[.084,5.27],[.087,5.31],[.09,5.27],[.093,5.31],[.096,5.27],[.099,5.31],[.102,5.27],[.105,5.31],[.107,5.27],
[.079,5.42],[.082,5.39],[.085,5.43],[.088,5.39],[.091,5.43],[.094,5.39],[.097,5.43],[.1,5.39],[.103,5.43],[.106,5.39],[.108,5.43],[.084,5.54],[.087,5.5],[.09,5.54],[.093,5.5],[.096,5.54],[.099,5.5],[.102,5.54],[.105,5.5],[.108,5.54],[.111,5.5],
[.086,5.65],[.089,5.62],[.092,5.66],[.095,5.62],[.098,5.66],[.101,5.62],[.104,5.66],[.107,5.62],[.11,5.66],[.089,5.77],[.092,5.73],[.095,5.77],[.098,5.73],[.101,5.77],[.104,5.73],[.107,5.77],[.11,5.73],
[.09,5.88],[.093,5.85],[.096,5.89],[.099,5.85],[.102,5.89],[.105,5.85],[.108,5.89],[.111,5.85],[.114,5.89],[.091,6.0],[.094,5.96],[.097,6.0],[.1,5.96],[.103,6.0],[.106,5.96],[.109,6.0],[.112,5.96],[.115,6.0],
[.092,6.11],[.095,6.08],[.098,6.12],[.101,6.08],[.104,6.12],[.107,6.08],[.11,6.12],[.113,6.08],[.116,6.12],[.119,6.08],[.093,6.23],[.096,6.19],[.099,6.23],[.102,6.19],[.105,6.23],[.108,6.19],[.111,6.23],[.114,6.19],[.117,6.23],[.12,6.19],
[.095,6.34],[.098,6.31],[.101,6.35],[.104,6.31],[.107,6.35],[.11,6.31],[.113,6.35],[.116,6.31],[.119,6.35],[.122,6.31],[.125,6.35],[.097,6.46],[.1,6.42],[.103,6.46],[.106,6.42],[.109,6.46],[.112,6.42],[.115,6.46],[.118,6.42],[.121,6.46],[.124,6.42],[.127,6.46],
[.101,6.57],[.104,6.54],[.107,6.58],[.11,6.54],[.113,6.58],[.116,6.54],[.119,6.58],[.122,6.54],[.125,6.58],[.128,6.54],[.131,6.58],[.109,6.69],[.112,6.65],[.115,6.69],[.118,6.65],[.121,6.69],[.124,6.65],[.127,6.69],[.13,6.65],
[.112,6.8],[.115,6.77],[.118,6.81],[.121,6.77],[.124,6.81],[.127,6.77],[.13,6.81],[.116,6.92],[.119,6.88],[.122,6.92],[.125,6.88],[.128,6.92],[.131,6.88],[.119,7.03],[.122,7.0],[.125,7.04],[.128,7.0],[.121,7.12],[.125,7.14]
];
const alpVirCore = [
[.042,3.45],[.047,3.58],[.052,3.62],[.057,3.36],[.062,3.57],[.056,3.9],[.061,3.91],[.066,4.01],[.071,4.11],[.069,4.34],[.076,4.34],[.073,4.45],[.078,4.57],[.08,4.69],[.075,4.79],[.083,4.9],[.081,5.0],[.087,5.12],[.083,5.23],[.09,5.35],[.092,5.47],[.096,5.6],[.1,5.83],[.104,5.94],[.108,6.05],[.11,6.16],[.116,6.27],[.12,6.4],[.12,6.5],[.123,6.62],[.122,6.73],[.124,6.85],[.125,6.97],
[.0295,2.88],[.0335,2.9],[.0375,2.87],[.0415,2.9],[.0455,2.88],[.0495,2.9],[.0285,3.02],[.0325,3.0],[.0365,3.03],[.0395,3.0],[.0435,3.02],[.0465,2.98],[.0505,3.02],[.0545,3.03],[.0345,3.15],[.0375,3.13],[.0405,3.16],[.0435,3.13],[.0465,3.15],[.0495,3.13],[.0525,3.16],[.0555,3.14],[.0585,3.15],[.0615,3.13],
[.0335,3.25],[.0365,3.26],[.0395,3.24],[.0425,3.26],[.0455,3.24],[.0485,3.27],[.0515,3.24],[.0545,3.27],[.0575,3.24],[.0605,3.27],[.0635,3.24],[.0345,3.37],[.0375,3.35],[.0405,3.37],[.0435,3.35],[.0465,3.38],[.0495,3.35],[.0525,3.38],[.0555,3.34],[.0585,3.38],[.0615,3.35],[.0645,3.37],
[.0375,3.47],[.0405,3.49],[.0435,3.46],[.0465,3.49],[.0495,3.45],[.0525,3.48],[.0555,3.45],[.0585,3.48],[.0615,3.45],[.0645,3.48],[.0675,3.45],[.0405,3.59],[.0435,3.57],[.0465,3.6],[.0495,3.57],[.0525,3.6],[.0555,3.57],[.0585,3.6],[.0615,3.57],[.0645,3.6],[.0675,3.57],[.0705,3.6],
[.0485,3.69],[.0515,3.7],[.0545,3.68],[.0575,3.71],[.0605,3.68],[.0635,3.7],[.0665,3.68],[.0695,3.71],[.0725,3.68],[.0495,3.81],[.0525,3.79],[.0555,3.81],[.0585,3.79],[.0615,3.81],[.0645,3.78],[.0675,3.81],[.0705,3.79],[.0735,3.81],
[.0525,3.91],[.0555,3.92],[.0585,3.9],[.0615,3.93],[.0645,3.9],[.0675,3.93],[.0705,3.9],[.0735,3.92],[.0765,3.9],[.0535,4.02],[.0565,4.03],[.0595,4.01],[.0625,4.04],[.0655,4.01],[.0685,4.04],[.0715,4.01],[.0745,4.04],[.0775,4.01],[.0805,4.03],
[.0565,4.13],[.0595,4.12],[.0625,4.14],[.0655,4.12],[.0685,4.14],[.0715,4.12],[.0745,4.14],[.0775,4.12],[.0805,4.14],[.0835,4.21],[.0585,4.24],[.0615,4.23],[.0645,4.25],[.0675,4.23],[.0705,4.25],[.0735,4.23],[.0765,4.25],[.0795,4.23],[.0825,4.25],[.0855,4.24],
[.0605,4.35],[.0635,4.34],[.0665,4.36],[.0695,4.33],[.0725,4.36],[.0755,4.33],[.0785,4.36],[.0815,4.33],[.0845,4.36],[.0875,4.34],[.0615,4.46],[.0645,4.45],[.0675,4.47],[.0705,4.44],[.0735,4.47],[.0765,4.45],[.0795,4.47],[.0825,4.45],[.0855,4.47],[.0885,4.45],
[.0635,4.57],[.0665,4.56],[.0695,4.58],[.0725,4.56],[.0755,4.58],[.0785,4.55],[.0815,4.58],[.0845,4.55],[.0875,4.58],[.0905,4.56],[.0655,4.68],[.0685,4.67],[.0715,4.69],[.0745,4.67],[.0775,4.69],[.0805,4.67],[.0835,4.69],[.0865,4.66],[.0895,4.69],[.0925,4.67],
[.0665,4.79],[.0695,4.78],[.0725,4.8],[.0755,4.78],[.0785,4.8],[.0815,4.78],[.0845,4.8],[.0875,4.78],[.0905,4.8],[.0935,4.78],[.0685,4.91],[.0715,4.89],[.0745,4.91],[.0775,4.89],[.0805,4.91],[.0835,4.89],[.0865,4.91],[.0895,4.89],[.0925,4.91],[.0955,4.89],
[.0715,5.02],[.0745,5.01],[.0775,5.03],[.0805,5.0],[.0835,5.03],[.0865,5.01],[.0895,5.03],[.0925,5.0],[.0955,5.03],[.0985,5.01],[.0735,5.13],[.0765,5.12],[.0795,5.14],[.0825,5.12],[.0855,5.14],[.0885,5.11],[.0915,5.14],[.0945,5.12],[.0975,5.14],[.1005,5.12],
[.0765,5.24],[.0795,5.23],[.0825,5.25],[.0855,5.23],[.0885,5.25],[.0915,5.23],[.0945,5.25],[.0975,5.22],[.1005,5.25],[.1035,5.23],[.0795,5.36],[.0825,5.35],[.0855,5.37],[.0885,5.34],[.0915,5.37],[.0945,5.35],[.0975,5.37],[.1005,5.34],[.1035,5.37],[.1055,5.35],
[.0855,5.48],[.0885,5.46],[.0915,5.48],[.0945,5.46],[.0975,5.49],[.1005,5.46],[.1035,5.48],[.1065,5.46],[.0875,5.59],[.0905,5.58],[.0935,5.6],[.0965,5.57],[.0995,5.6],[.1025,5.58],[.1055,5.6],[.1085,5.58],
[.0905,5.71],[.0935,5.69],[.0965,5.71],[.0995,5.69],[.1025,5.71],[.1055,5.69],[.1085,5.71],[.0915,5.82],[.0945,5.8],[.0975,5.83],[.1005,5.8],[.1035,5.83],[.1065,5.81],[.1095,5.82],
[.0945,5.93],[.0975,5.92],[.1005,5.94],[.1035,5.91],[.1065,5.94],[.1095,5.92],[.1125,5.94],[.0955,6.05],[.0985,6.03],[.1015,6.06],[.1045,6.03],[.1075,6.05],[.1105,6.03],[.1135,6.05],[.1165,6.03],
[.0965,6.16],[.0995,6.15],[.1025,6.17],[.1055,6.14],[.1085,6.17],[.1115,6.15],[.1145,6.17],[.1175,6.14],[.0985,6.28],[.1015,6.26],[.1045,6.28],[.1075,6.26],[.1105,6.29],[.1135,6.26],[.1165,6.29],[.1195,6.26],
[.1025,6.39],[.1055,6.38],[.1085,6.4],[.1115,6.37],[.1145,6.4],[.1175,6.38],[.1205,6.4],[.1235,6.38],[.1055,6.51],[.1085,6.49],[.1115,6.52],[.1145,6.49],[.1175,6.51],[.1205,6.49],[.1235,6.51],[.1265,6.49],
[.1115,6.62],[.1145,6.6],[.1175,6.63],[.1205,6.6],[.1235,6.63],[.1265,6.6],[.1295,6.62],[.1135,6.74],[.1165,6.72],[.1195,6.74],[.1225,6.71],[.1255,6.74],[.1285,6.72],[.1315,6.74],[.1175,6.85],[.1205,6.84],[.1235,6.86],[.1265,6.83],[.1295,6.85],[.1205,6.96],[.1235,6.95],[.1265,6.97],[.1295,6.95]
];

const delPerPoints = delPerSparse.concat(delPerCloud);
const alpVirThin = alpVirSparse.concat(alpVirCorner);
const alpVirDense = alpVirColumn.concat(alpVirRidge, alpVirCore);

function makeStar(color, width) {
    const c = document.createElement('canvas');
    c.width = 28;
    c.height = 28;
    const g = c.getContext('2d');
    g.strokeStyle = color;
    g.lineWidth = width;
    g.beginPath();
    g.moveTo(14, 2); g.lineTo(14, 15);
    g.moveTo(3, 11); g.lineTo(25, 11);
    g.moveTo(14, 14); g.lineTo(7, 25);
    g.moveTo(14, 14); g.lineTo(21, 25);
    g.stroke();
    return c;
}

const starRed = makeStar('#ff0000', 2.4);
const starBlue = makeStar('#0000ff', 2.4);
const starGreen = makeStar('#007f00', 2.4);
// the packed regions merge into solid colour in the original
const starBlueDense = makeStar('#0000ff', 4);
const starGreenDense = makeStar('#007f00', 3.2);

function toXY(list) {
    return list.map(p => ({ x: p[0], y: p[1] }));
}

// IDL style frame: ticks point inward on all four sides
const framePlugin = {
    id: 'frame',
    afterDatasetsDraw(chart) {
        const ctx = chart.ctx;
        const xs = chart.scales.x;
        const ys = chart.scales.y;
        const a = chart.chartArea;
        ctx.save();
        ctx.strokeStyle = '#333';
        ctx.lineWidth = 2.5;
        ctx.beginPath();
        for (let i = 1; i < 50; i++) {
            const px = xs.getPixelForValue(i / 100);
            const len = i % 10 === 0 ? 82 : 41;
            ctx.moveTo(px, a.bottom); ctx.lineTo(px, a.bottom - len);
            ctx.moveTo(px, a.top); ctx.lineTo(px, a.top + len);
        }
        ctx.stroke();
        ctx.strokeStyle = '#444';
        ctx.lineWidth = 3;
        ctx.beginPath();
        for (let i = 1; i < 20; i++) {
            const py = ys.getPixelForValue(i / 2);
            const len = i % 4 === 0 ? 82 : 41;
            ctx.moveTo(a.left, py); ctx.lineTo(a.left + len, py);
            ctx.moveTo(a.right, py); ctx.lineTo(a.right - len, py);
        }
        ctx.stroke();

        ctx.strokeStyle = '#777';
        ctx.lineWidth = 4;
        ctx.beginPath();
        ctx.moveTo(a.left, a.top); ctx.lineTo(a.left, a.bottom);
        ctx.moveTo(a.right, a.top); ctx.lineTo(a.right, a.bottom);
        ctx.stroke();
        ctx.strokeStyle = '#555';
        ctx.lineWidth = 3;
        ctx.beginPath();
        ctx.moveTo(a.left, a.top); ctx.lineTo(a.right, a.top);
        ctx.stroke();
        ctx.strokeStyle = '#111';
        ctx.beginPath();
        ctx.moveTo(a.left, a.bottom); ctx.lineTo(a.right, a.bottom);
        ctx.stroke();
        ctx.restore();
    }
};

// legend box with the black drop shadow, plus the three lines of text
const notesPlugin = {
    id: 'notes',
    afterDraw(chart) {
        const ctx = chart.ctx;
        ctx.save();
        ctx.fillStyle = '#999';
        ctx.fillRect(1904, 233, 477, 242);
        ctx.fillStyle = '#000';
        ctx.fillRect(1907, 233, 470, 237);
        ctx.fillStyle = '#fff';
        ctx.fillRect(1875, 212, 498, 248);
        ctx.strokeStyle = '#777';
        ctx.lineWidth = 4;
        ctx.strokeRect(1875, 212, 498, 248);
        ctx.fillStyle = '#777';
        ctx.fillRect(1873, 210, 502, 6);

        const stars = [starRed, starBlue, starGreen];
        const rowY = [267, 331, 401];
        ctx.font = '47px "Liberation Sans"';
        ctx.textBaseline = 'middle';
        ctx.textAlign = 'left';
        ctx.fillStyle = '#222';
        seriesNames.forEach((name, i) => {
            [1899, 1987, 2075].forEach(px => ctx.drawImage(stars[i], px - 14, rowY[i] - 14));
            ctx.fillText(name, 2100, rowY[i] + 2);
        });

        ctx.font = '74px "Liberation Sans"';
        ctx.textBaseline = 'alphabetic';
        ctx.fillStyle = '#000';
        const noteY = [278, 370, 460];
        noteLines.forEach((line, i) => ctx.fillText(line, 1311, noteY[i]));
        ctx.restore();
    }
};

new Chart(document.getElementById('chart'), {
    type: 'scatter',
    data: {
        datasets: [
            { label: seriesNames[0], data: toXY(delPerPoints), order: 5, pointStyle: starRed, pointRadius: 11 },
            { label: seriesNames[1], data: toXY(betCenSparse), order: 4, pointStyle: starBlue, pointRadius: 11 },
            { label: seriesNames[1], data: toXY(betCenBand), order: 3, pointStyle: starBlueDense, pointRadius: 11 },
            { label: seriesNames[2], data: toXY(alpVirDense), order: 2, pointStyle: starGreenDense, pointRadius: 11 },
            { label: seriesNames[2], data: toXY(alpVirThin), order: 1, pointStyle: starGreen, pointRadius: 11 }
        ]
    },
    options: {
        responsive: false,
        animation: false,
        events: [],
        layout: { padding: { top: 31, right: 39, left: 0, bottom: 0 } },
        plugins: { legend: { display: false }, tooltip: { enabled: false } },
        scales: {
            x: {
                type: 'linear',
                min: 0,
                max: 0.5,
                afterFit(scale) {
                    scale.height = 117;
                    scale.paddingLeft = 0;
                    scale.paddingRight = 0;
                },
                grid: { display: false },
                border: { display: false },
                ticks: {
                    stepSize: 0.1,
                    maxRotation: 0,
                    padding: 12,
                    color: '#222',
                    font: { family: '"Liberation Sans"', size: 47 },
                    callback: (v, i) => xTickLabels[i]
                },
                title: {
                    display: true,
                    text: 'Normal Optical Depth',
                    color: '#222',
                    padding: 0,
                    font: { family: '"Liberation Sans"', size: 47, lineHeight: 1.12 }
                }
            },
            y: {
                type: 'linear',
                min: 0,
                max: 10,
                afterFit(scale) {
                    scale.width = 170;
                    scale.paddingTop = 0;
                    scale.paddingBottom = 0;
                },
                grid: { display: false },
                border: { display: false },
                ticks: {
                    stepSize: 2,
                    padding: 24,
                    color: '#222',
                    font: { family: '"Liberation Sans"', size: 47 },
                    callback: (v, i) => yTickLabels[i]
                },
                title: {
                    display: true,
                    text: 'Normalized Excess Variance',
                    color: '#222',
                    padding: { top: 9, bottom: 0 },
                    font: { family: '"Liberation Sans"', size: 47 }
                }
            }
        }
    },
    plugins: [framePlugin, notesPlugin]
});
</script>
</body>
</html>
